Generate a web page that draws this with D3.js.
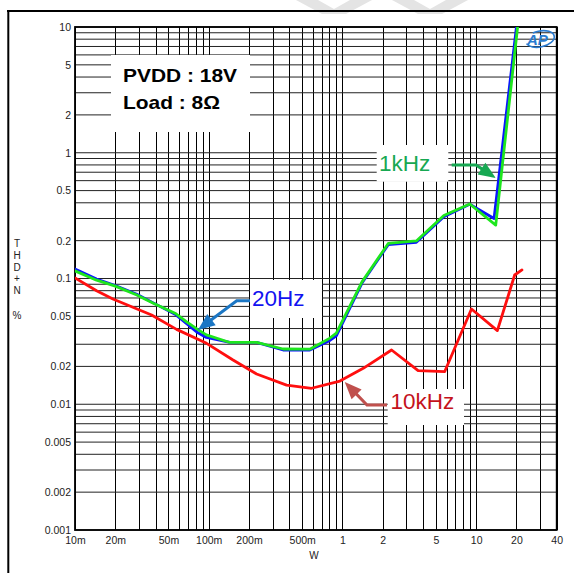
<!DOCTYPE html>
<html>
<head>
<meta charset="utf-8">
<script src="https://cdn.jsdelivr.net/npm/d3@7"></script>
<style>
  html, body { margin: 0; padding: 0; background: #fff; }
  svg { display: block; }
</style>
</head>
<body>
<svg id="chart" width="574" height="573"></svg>
<script>
// Output power axis (W) and THD+N axis (%)
const powerTicks = [0.01, 0.02, 0.05, 0.1, 0.2, 0.5, 1, 2, 5, 10, 20, 40];
const powerTickLabels = ["10m", "20m", "50m", "100m", "200m", "500m", "1", "2", "5", "10", "20", "40"];
const thdTicks = [10, 5, 2, 1, 0.5, 0.2, 0.1, 0.05, 0.02, 0.01, 0.005, 0.002, 0.001];
const thdTickLabels = ["10", "5", "2", "1", "0.5", "0.2", "0.1", "0.05", "0.02", "0.01", "0.005", "0.002", "0.001"];

// THD+N vs output power, PVDD = 18 V, 8 ohm load
const power20Hz = [0.01, 0.0145, 0.02, 0.029, 0.0385, 0.056, 0.068, 0.083, 0.096, 0.144, 0.228, 0.36, 0.57, 0.8, 0.9, 1.4, 2.2, 3.57, 5.73, 8.95, 13.6, 20.0];
const thd20Hz   = [0.119, 0.099, 0.088, 0.075, 0.064, 0.052, 0.044, 0.037, 0.034, 0.031, 0.031, 0.027, 0.027, 0.032, 0.035, 0.092, 0.186, 0.194, 0.31, 0.39, 0.30, 10];

const power1kHz = [0.01, 0.0145, 0.02, 0.029, 0.0385, 0.056, 0.068, 0.0835, 0.096, 0.144, 0.228, 0.36, 0.57, 0.8, 0.9, 1.4, 2.2, 3.57, 5.73, 8.95, 14.0, 20.4];
const thd1kHz   = [0.115, 0.097, 0.087, 0.074, 0.0635, 0.053, 0.0455, 0.039, 0.0356, 0.031, 0.031, 0.0275, 0.0274, 0.0334, 0.0367, 0.094, 0.19, 0.199, 0.317, 0.391, 0.266, 10];

const power10kHz = [0.01, 0.0145, 0.0192, 0.0374, 0.0575, 0.0964, 0.152, 0.228, 0.382, 0.588, 0.957, 1.43, 2.33, 3.68, 5.82, 9.22, 14.4, 19.4, 22.0];
const thd10kHz   = [0.101, 0.080, 0.0687, 0.0513, 0.0394, 0.0305, 0.0225, 0.0174, 0.0142, 0.0134, 0.0153, 0.0193, 0.027, 0.0185, 0.0182, 0.0572, 0.0385, 0.1066, 0.117];

const svg = d3.select("#chart");
const font = "Arial, 'Liberation Sans', Helvetica, sans-serif";

const plot = { left: 75, right: 556.7, top: 27, bottom: 530 };
const x = d3.scaleLog().domain([0.01, 40]).range([plot.left, plot.right]);
const y = d3.scaleLog().domain([0.001, 10]).range([plot.bottom, plot.top]);

// faint watermark at the top edge
const wm = svg.append("g").attr("fill", "#e4e4e4");
wm.append("polygon").attr("points", "296,0 318,0 334,9 350,0 372,0 346,14 322,14");
wm.append("polygon").attr("points", "392,0 414,0 430,9 446,0 468,0 442,14 418,14");

// page frame
svg.append("line").attr("x1", 7).attr("x2", 574).attr("y1", 11).attr("y2", 11)
  .attr("stroke", "#000").attr("stroke-width", 2);
svg.append("line").attr("x1", 8.3).attr("x2", 8.3).attr("y1", 10).attr("y2", 573)
  .attr("stroke", "#000").attr("stroke-width", 2);

// log grid: every 1..9 multiple in each decade
function logGrid(lo, hi) {
  const out = [];
  for (let d = lo; d < hi * 1.0001; d *= 10) {
    for (let k = 1; k <= 9; k++) {
      const v = +(d * k).toPrecision(6);
      if (v >= lo * 0.9999 && v <= hi * 1.0001) out.push(v);
    }
  }
  return out;
}
const grid = svg.append("g").attr("stroke", "#000").attr("stroke-width", 1);
grid.selectAll("line.v").data(logGrid(0.01, 40)).join("line")
  .attr("class", "v")
  .attr("x1", d => Math.round(x(d)) + 0.5).attr("x2", d => Math.round(x(d)) + 0.5)
  .attr("y1", plot.top).attr("y2", plot.bottom);
grid.selectAll("line.h").data(logGrid(0.001, 10)).join("line")
  .attr("class", "h")
  .attr("x1", plot.left).attr("x2", plot.right)
  .attr("y1", d => y(d)).attr("y2", d => y(d))
  .attr("stroke", "#222");

// plot border
svg.append("rect")
  .attr("x", plot.left).attr("y", plot.top)
  .attr("width", plot.right - plot.left).attr("height", plot.bottom - plot.top)
  .attr("fill", "none").attr("stroke", "#000").attr("stroke-width", 1.8);

// axes
const yAxis = d3.axisLeft(y).tickValues(thdTicks)
  .tickFormat((d, i) => thdTickLabels[i]).tickSize(0).tickPadding(4);
const gy = svg.append("g").attr("transform", `translate(${plot.left},0)`).call(yAxis);
gy.select(".domain").remove();
gy.selectAll("text").attr("font-family", font).attr("font-size", 10.5).attr("fill", "#222");

const xAxis = d3.axisBottom(x).tickValues(powerTicks)
  .tickFormat((d, i) => powerTickLabels[i]).tickSize(0).tickPadding(7);
const gx = svg.append("g").attr("transform", `translate(0,${plot.bottom})`).call(xAxis);
gx.select(".domain").remove();
gx.selectAll("text").attr("font-family", font).attr("font-size", 10.5).attr("fill", "#222");

// axis titles
svg.append("text").attr("x", 314).attr("y", 559).attr("text-anchor", "middle")
  .attr("font-family", font).attr("font-size", 10).attr("fill", "#222").text("W");
const yTitle = ["T", "H", "D", "+", "N"];
svg.append("g").selectAll("text").data(yTitle).join("text")
  .attr("x", 17).attr("y", (d, i) => 247 + i * 11.8)
  .attr("text-anchor", "middle").attr("font-family", font).attr("font-size", 10).attr("fill", "#222")
  .text(d => d);
svg.append("text").attr("x", 17).attr("y", 319).attr("text-anchor", "middle")
  .attr("font-family", font).attr("font-size", 10).attr("fill", "#222").text("%");

// condition box
svg.append("rect").attr("x", 111).attr("y", 55).attr("width", 139).attr("height", 77).attr("fill", "#fff");
svg.append("text").attr("x", 123).attr("y", 82)
  .attr("font-family", font).attr("font-weight", "bold").attr("font-size", 19)
  .attr("textLength", 114).attr("lengthAdjust", "spacingAndGlyphs").text("PVDD : 18V");
svg.append("text").attr("x", 123).attr("y", 108.5)
  .attr("font-family", font).attr("font-weight", "bold").attr("font-size", 19)
  .attr("textLength", 97).attr("lengthAdjust", "spacingAndGlyphs").text("Load : 8Ω");

// curves
svg.append("clipPath").attr("id", "plotClip").append("rect")
  .attr("x", plot.left).attr("y", plot.top)
  .attr("width", plot.right - plot.left).attr("height", plot.bottom - plot.top);
const line = d3.line().x(d => x(d[0])).y(d => y(d[1]));
const curves = svg.append("g").attr("clip-path", "url(#plotClip)")
  .attr("fill", "none").attr("stroke-linejoin", "round").attr("stroke-linecap", "round");
const series = [
  { p: power20Hz, t: thd20Hz, color: "#0a14ff" },
  { p: power1kHz, t: thd1kHz, color: "#1ee61e" },
  { p: power10kHz, t: thd10kHz, color: "#ff0f0f" }
];
series.forEach(s => {
  curves.append("path")
    .datum(d3.zip(s.p, s.t))
    .attr("d", line)
    .attr("stroke", s.color)
    .attr("stroke-width", 2.8);
});

// callouts: label box, leader line with elbow, filled arrowhead at the curve
function callout(opts) {
  const tip = [x(opts.tip[0]), y(opts.tip[1])];
  const g = svg.append("g");
  g.append("rect").attr("x", opts.box[0]).attr("y", opts.box[1])
    .attr("width", opts.box[2]).attr("height", opts.box[3]).attr("fill", "#fff");
  g.append("text").attr("x", opts.text[0]).attr("y", opts.text[1])
    .attr("font-family", font).attr("font-size", 22.5).attr("fill", opts.textColor)
    .text(opts.label);
  const pts = opts.path.concat([tip]);
  const a = pts[pts.length - 2];
  const dx = tip[0] - a[0], dy = tip[1] - a[1];
  const len = Math.hypot(dx, dy), ux = dx / len, uy = dy / len;
  const hl = opts.headLen, hw = opts.headWidth;
  const base = [tip[0] - ux * hl, tip[1] - uy * hl];
  const linePts = pts.slice(0, -1).concat([[tip[0] - ux * hl * 0.6, tip[1] - uy * hl * 0.6]]);
  g.append("path").attr("d", d3.line()(linePts))
    .attr("fill", "none").attr("stroke", opts.arrowColor).attr("stroke-width", 3)
    .attr("stroke-linejoin", "miter");
  g.append("polygon")
    .attr("points", [
      tip,
      [base[0] - uy * hw, base[1] + ux * hw],
      [base[0] + uy * hw, base[1] - ux * hw]
    ].map(p => p.join(",")).join(" "))
    .attr("fill", opts.arrowColor);
}

callout({
  label: "20Hz", tip: [0.083, 0.039], textColor: "#1212f0", arrowColor: "#1b76c4",
  box: [250, 280, 72, 38], text: [252, 306],
  path: [[250, 300.7], [236.7, 300.7]], headLen: 17, headWidth: 7
});
callout({
  label: "1kHz", tip: [14.0, 0.63], textColor: "#17a852", arrowColor: "#17a852",
  box: [376.7, 145, 71.6, 36.7], text: [379, 170.7],
  path: [[451.7, 165], [476, 165]], headLen: 17, headWidth: 7
});
callout({
  label: "10kHz", tip: [1.04, 0.015], textColor: "#c4121c", arrowColor: "#c0504d",
  box: [387.7, 389, 76.3, 36], text: [390.5, 409.3],
  path: [[387, 405], [367, 405]], headLen: 17, headWidth: 7
});

// AP logo
const logo = svg.append("g").attr("fill", "none").attr("stroke", "#2a7bd0");
logo.append("ellipse").attr("cx", 540).attr("cy", 39).attr("rx", 14.5).attr("ry", 8)
  .attr("transform", "rotate(-12,540,39)").attr("stroke-width", 1.6)
  .attr("stroke-dasharray", "56 14").attr("stroke-dashoffset", 22);
svg.append("text").attr("x", 527).attr("y", 45).attr("font-family", font)
  .attr("font-style", "italic").attr("font-weight", "bold").attr("font-size", 15)
  .attr("fill", "#2a7bd0").text("AP");
</script>
</body>
</html>
